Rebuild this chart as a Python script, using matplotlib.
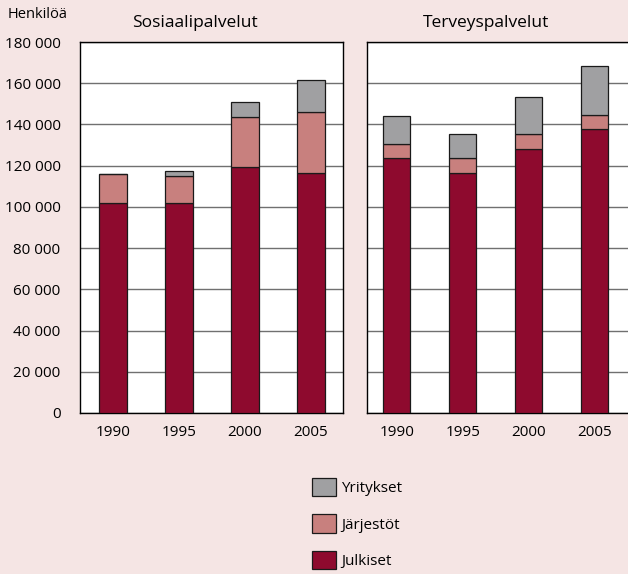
import matplotlib
matplotlib.use('Agg')
import matplotlib.pyplot as plt
from matplotlib.ticker import FuncFormatter, MultipleLocator
import numpy as np

plt.rcParams['font.family'] = ['Open Sans', 'DejaVu Sans']

years = ['1990', '1995', '2000', '2005']

# Sosiaalipalvelut
sos_julkiset = [102000, 102000, 119500, 116500]
sos_jarjestot = [14000, 12800, 24000, 29500]
sos_yritykset = [0, 2800, 7500, 15800]

# Terveyspalvelut
ter_julkiset = [123500, 116500, 128200, 137800]
ter_jarjestot = [7100, 7000, 7000, 6900]
ter_yritykset = [13500, 12100, 18300, 23500]

series_names = ['Julkiset', 'Järjestöt', 'Yritykset']
colors = ['#8E0A2E', '#C8807E', '#A0A0A2']
bg = '#F5E5E4'

W, H = 628, 574
fig = plt.figure(figsize=(W / 100, H / 100), dpi=100, facecolor=bg)

ax1 = fig.add_axes([80 / W, 1 - 413 / H, 263 / W, 371 / H])
ax2 = fig.add_axes([366.5 / W, 1 - 413 / H, 263 / W, 371 / H])

x = np.arange(len(years))
bw = 0.41


def draw(ax, julk, jarj, yrit, xlim, title, tx):
    bottom = np.zeros(len(years))
    handles = []
    for vals, c, name in zip([julk, jarj, yrit], colors, series_names):
        h = ax.bar(x, vals, bw, bottom=bottom, color=c, edgecolor='#1a1a1a',
                   linewidth=0.9, label=name, zorder=3)
        bottom = bottom + np.array(vals)
        handles.append(h)
    ax.set_xlim(*xlim)
    ax.set_ylim(0, 180000)
    ax.yaxis.set_major_locator(MultipleLocator(20000))
    ax.grid(axis='y', color='#707070', linewidth=1)
    ax.set_axisbelow(True)
    ax.set_xticks(x)
    ax.set_xticklabels(years, fontsize=11)
    ax.tick_params(axis='both', length=0, pad=9)
    for s in ax.spines.values():
        s.set_color('black')
        s.set_linewidth(1)
    ax.text(tx, 1.051, title, transform=ax.transAxes, ha='center',
            va='center', fontsize=12.5)
    return handles


handles = draw(ax1, sos_julkiset, sos_jarjestot, sos_yritykset,
               (-0.5, 3.485), 'Sosiaalipalvelut', 0.437)
draw(ax2, ter_julkiset, ter_jarjestot, ter_yritykset,
     (-0.462, 3.53), 'Terveyspalvelut', 0.4535)

ax1.yaxis.set_major_formatter(
    FuncFormatter(lambda v, p: f'{int(v):,}'.replace(',', ' ')))
ax1.tick_params(axis='y', labelsize=11, pad=14)
ax2.tick_params(axis='y', labelleft=False)

fig.text(8 / W, 1 - 15 / H, 'Henkilöä', ha='left', va='center', fontsize=10.5)

fig.legend(handles[::-1], series_names[::-1], loc='upper left',
           bbox_to_anchor=(312 / W, 1 - 478 / H), frameon=False,
           fontsize=11, handlelength=1.55, handleheight=1.45,
           handletextpad=0.35, labelspacing=1.2, borderpad=0,
           borderaxespad=0)

fig.savefig('out.png', dpi=100, facecolor=bg)
